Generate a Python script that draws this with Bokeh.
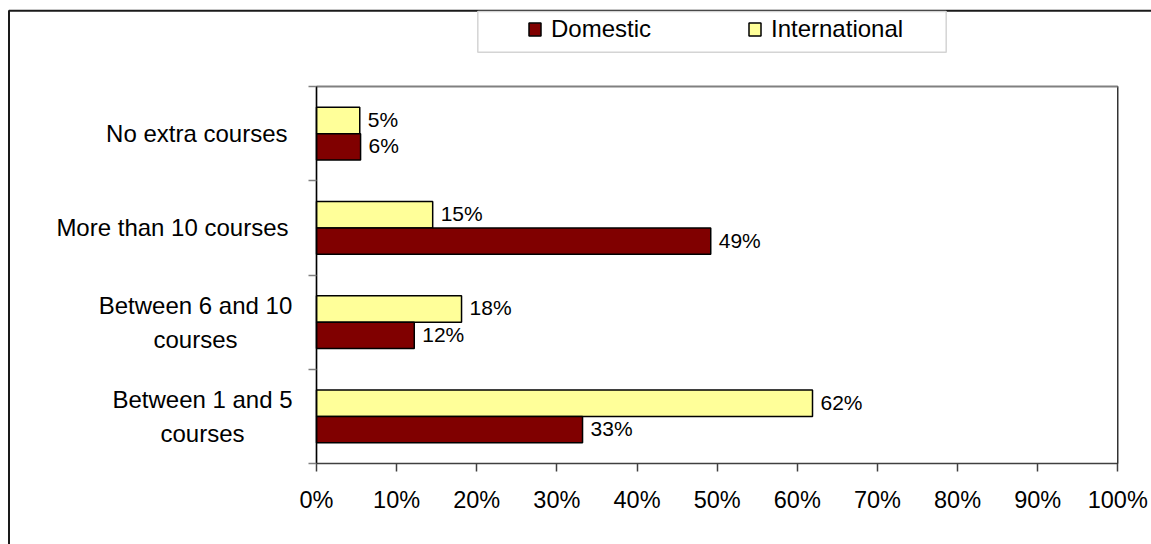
import numpy as np
from bokeh.plotting import figure
from bokeh.models import (Range1d, FixedTicker, PrintfTickFormatter, BoxAnnotation,
                          Label, Legend, LegendItem, ColumnDataSource)
from bokeh.core.properties import value
from bokeh.embed import file_html
from bokeh.resources import INLINE

# ---- data (bottom to top) ----
categories = ["Between 1 and 5\ncourses", "Between 6 and 10\ncourses",
              "More than 10 courses", "No extra courses"]
domestic = [33.2, 12.2, 49.2, 5.5]
international = [61.9, 18.1, 14.5, 5.4]
series_names = ["Domestic", "International"]
x_ticks = [0, 10, 20, 30, 40, 50, 60, 70, 80, 90, 100]

# ---- style / geometry ----
FONT = "Liberation Sans"
W, H = 1151, 544
PX_LEFT, PX_RIGHT = 316.0, 1117.3      # pixel of 0% and 100%
PX_BOTTOM, PX_TOP = 463.0, 86.0        # pixel of plot-area bottom and top
C_DOM = "#800000"
C_INT = "#FFFF99"
BAR_H = 0.28
OFF = 0.14
NCAT = len(categories)

sx = (PX_RIGHT - PX_LEFT) / 100.0
sy = (PX_BOTTOM - PX_TOP) / NCAT
x_range = Range1d(-PX_LEFT / sx, 100 + (W - PX_RIGHT) / sx)
y_range = Range1d(-(H - PX_BOTTOM) / sy, NCAT + PX_TOP / sy)

p = figure(width=W, height=H, output_backend="svg", toolbar_location=None,
           x_range=x_range, y_range=y_range,
           min_border=0, min_border_left=0, min_border_right=0,
           min_border_top=0, min_border_bottom=0)
p.outline_line_color = None
p.grid.visible = False
p.background_fill_color = "white"
p.border_fill_color = "white"

ypos = np.arange(NCAT) + 0.5
src = ColumnDataSource(dict(
    y_int=ypos + OFF, y_dom=ypos - OFF,
    dom=domestic, intl=international,
    dom_lbl=[f"{int(v + 0.5)}%" for v in domestic],
    int_lbl=[f"{int(v + 0.5)}%" for v in international],
))

# plot-area frame (drawn beneath the axes)
p.add_layout(BoxAnnotation(left=0, right=100, bottom=0, top=NCAT, level="underlay",
                           fill_color=None, fill_alpha=0,
                           line_color="black", line_alpha=1, line_width=1.2))
p.add_layout(BoxAnnotation(left=0, right=100, bottom=NCAT, top=NCAT, level="underlay",
                           fill_color=None, fill_alpha=0,
                           line_color="#808080", line_alpha=1, line_width=2))

r_int = p.hbar(y="y_int", left=0, right="intl", height=BAR_H, source=src,
               fill_color=C_INT, line_color="black", line_width=1.5)
r_dom = p.hbar(y="y_dom", left=0, right="dom", height=BAR_H, source=src,
               fill_color=C_DOM, line_color="black", line_width=1.5)

for xcol, ycol, tcol in (("intl", "y_int", "int_lbl"), ("dom", "y_dom", "dom_lbl")):
    p.text(x=xcol, y=ycol, text=tcol, source=src, x_offset=8, y_offset=-1,
           text_baseline="middle", text_align="left",
           text_font=value(FONT), text_font_size="21px", text_color="black")

# x axis (fixed at y=0)
xa = p.xaxis[0]
xa.fixed_location = 0
xa.bounds = (0, 100)
xa.ticker = FixedTicker(ticks=x_ticks)
xa.formatter = PrintfTickFormatter(format="%d%%")
xa.axis_line_color = "#404040"
xa.axis_line_width = 1.5
xa.major_tick_line_color = "#404040"
xa.major_tick_line_width = 1.5
xa.major_tick_out = 8
xa.major_tick_in = 0
xa.minor_tick_line_color = None
xa.major_label_text_font = FONT
xa.major_label_text_font_size = "23.5px"
xa.major_label_text_color = "black"
xa.major_label_standoff = 15

# y axis (fixed at x=0), ticks at category boundaries
ya = p.yaxis[0]
ya.fixed_location = 0
ya.bounds = (0, NCAT)
ya.ticker = FixedTicker(ticks=[], minor_ticks=list(range(NCAT + 1)))
ya.axis_line_color = "black"
ya.axis_line_width = 1.5
ya.major_tick_line_color = None
ya.minor_tick_line_color = "#808080"
ya.minor_tick_line_width = 1.5
ya.minor_tick_out = 8
ya.minor_tick_in = 0
ya.major_label_text_font_size = "0px"

# category labels
label_align = ["center", "center", "right", "right"]
label_xoff = [-114, -121, -28, -29]
for i, cat in enumerate(categories):
    p.add_layout(Label(x=0, y=ypos[i], text=cat, x_offset=label_xoff[i],
                       text_align=label_align[i], text_baseline="middle",
                       text_font=FONT, text_font_size="24px", text_color="black",
                       text_line_height=1.25))

# outer border and legend box
p.add_layout(BoxAnnotation(left=8.5, right=5000, top=10.3, bottom=5000,
                           left_units="canvas", right_units="canvas",
                           top_units="canvas", bottom_units="canvas",
                           fill_color=None, fill_alpha=0,
                           line_color="#1a1a1a", line_alpha=1, line_width=2))
p.add_layout(BoxAnnotation(left=477.3, right=945.7, top=11, bottom=51.7,
                           left_units="canvas", right_units="canvas",
                           top_units="canvas", bottom_units="canvas",
                           fill_color=None, fill_alpha=0,
                           line_color="#d4d4d4", line_alpha=1, line_width=1.5))

legend = Legend(items=[LegendItem(label=series_names[0], renderers=[r_dom]),
                       LegendItem(label=series_names[1], renderers=[r_int])],
                location=(527, H - 42.5), orientation="horizontal",
                background_fill_alpha=0, border_line_color=None,
                padding=0, margin=0, spacing=0,
                glyph_width=15, glyph_height=16, label_standoff=9,
                label_width=196, label_height=28,
                label_text_font=FONT, label_text_font_size="24px",
                label_text_color="black")
p.add_layout(legend)

open("out.html", "w").write(file_html(p, INLINE))
